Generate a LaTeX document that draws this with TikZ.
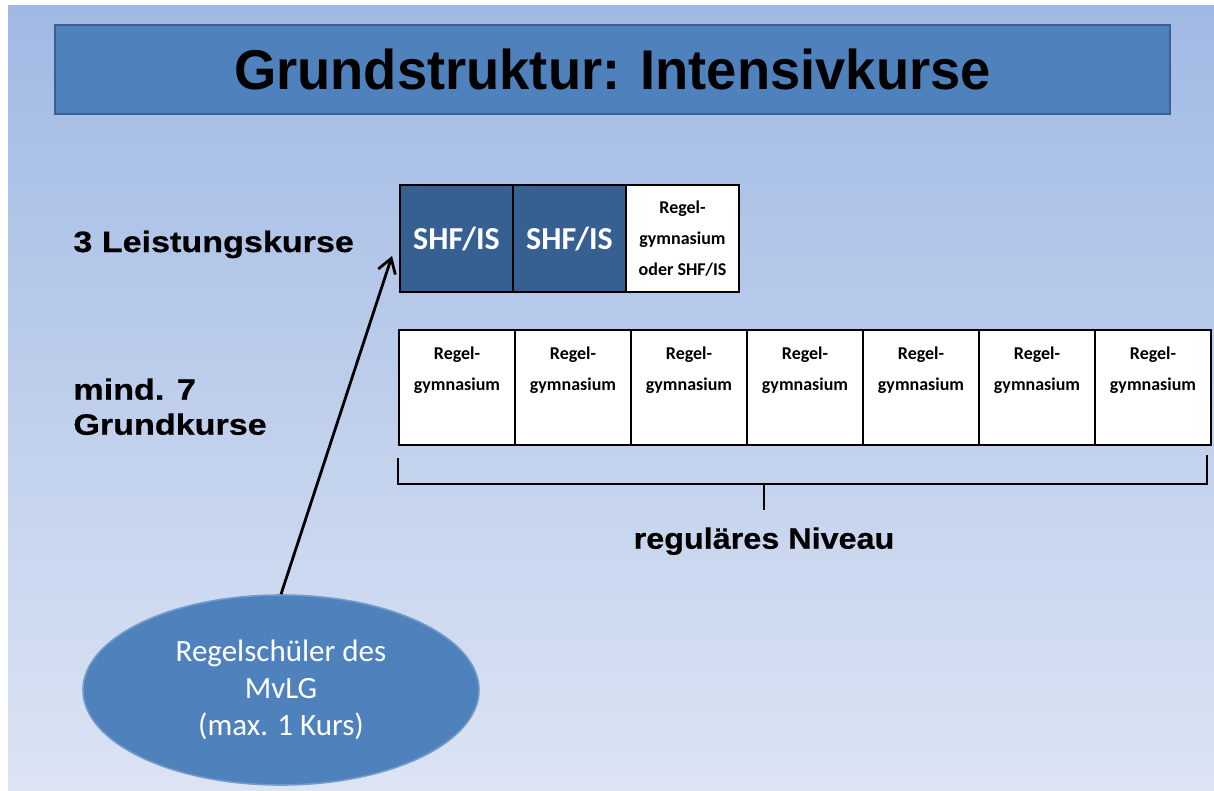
\documentclass[tikz,border=0pt]{standalone}
\usepackage{fontspec}
\setmainfont{Liberation Sans}
\newfontfamily\titlefont[FakeStretch=0.97]{Liberation Sans}
\newfontfamily\labelfont[FakeStretch=1.16,FakeBold=0.6]{Liberation Sans}
\newfontfamily\niveaufont[FakeStretch=1.1,FakeBold=0.6]{Liberation Sans}
\newfontfamily\calfont{Carlito}
\usetikzlibrary{positioning}
\usetikzlibrary{calc}
\usetikzlibrary{arrows.meta}
\usetikzlibrary{matrix,shapes.geometric}
\definecolor{titleblue}{HTML}{4F81BD}
\definecolor{titleline}{HTML}{3A5F95}
\definecolor{cellblue}{HTML}{376092}
\definecolor{bgtop}{HTML}{A0B9E4}
\definecolor{bgbottom}{HTML}{DCE4F4}

\tikzset{
	titlebox/.style={draw=titleline,line width=0.9pt,fill=titleblue,minimum width=557.5pt,minimum height=44.5pt,inner sep=0pt,font=\titlefont\bfseries\fontsize{28}{32}\selectfont},
	lkcell/.style={draw=black,line width=0.6pt,minimum width=56.5pt,minimum height=53.5pt,inner sep=0pt,outer sep=0pt,align=center},
	shfcell/.style={lkcell,fill=cellblue,text=white,font=\calfont\bfseries\fontsize{16}{19}\selectfont},
	regcell/.style={lkcell,fill=white,font=\calfont\bfseries\fontsize{9}{15.5}\selectfont},
	gkcell/.style={draw=black,line width=0.6pt,fill=white,minimum width=58pt,minimum height=57.5pt,inner sep=0pt,outer sep=0pt},
	celltext/.style={align=center,inner sep=0pt,font=\calfont\bfseries\fontsize{9}{15.5}\selectfont},
	kurslabel/.style={inner sep=0pt,align=left,font=\labelfont\bfseries\fontsize{14.7}{17.5}\selectfont},
	niveaulabel/.style={kurslabel,font=\niveaufont\bfseries\fontsize{14.7}{17.5}\selectfont},
	brace/.style={line width=1.4pt},
	pfeil/.style={line width=1.4pt,-{Straight Barb[length=7pt,width=9pt]}},
	schueler/.style={ellipse,fill=titleblue,draw=titleblue!80!white,line width=0.8pt,text=white,align=center,minimum width=198pt,minimum height=95pt,inner sep=0pt,font=\calfont\fontsize{15.5}{18.5}\selectfont},
}

\begin{document}
\begin{tikzpicture}[x=0.5pt,y=-0.5pt]
	\useasboundingbox (0,0) rectangle (1214,791);
	\fill[white] (0,0) rectangle (1214,791);
	\shade[top color=bgtop,bottom color=bgbottom] (8,6) rectangle (1214,791);
	
	% Titel
	\node[titlebox] (title) at (612.5,69.5) {Grundstruktur: Intensivkurse};
	
	% Leistungskurse
	\matrix[column sep=-0.6pt,inner sep=0pt,ampersand replacement=\&,anchor=north west] (lk) at (399,184) {
		\node[shfcell] (lk1) {SHF/IS}; \& \node[shfcell] (lk2) {\raisebox{-2.5pt}{SHF/IS}}; \& \node[regcell] (lk3) {Regel-\\gymnasium\\oder SHF/IS}; \\
	};
	
	% Grundkurse
	\node[gkcell,anchor=north west] (g1) at (399,330) {};
	\foreach \i [evaluate=\i as \j using int(\i-1)] in {2,...,7}
		\node[gkcell,right=0pt of g\j] (g\i) {};
	\foreach \i in {1,...,7}
		\node[celltext,anchor=north] (gt\i) at ($(g\i.north)+(0,16)$) {Regel-\\gymnasium};
	
	% Klammer
	\coordinate (kl) at ($(g1.south west)+(-1,13)$);
	\coordinate (kb) at ($(kl)+(0,26)$);
	\coordinate (kr) at ($(g7.south east)+(-4,10)$);
	\node[niveaulabel,anchor=north] (niveau) at (764,527) {reguläres Niveau};
	\draw[brace] (kl) -- (kb) -| (kr);
	\draw[brace] (niveau.north |- kb) -- ($(niveau.north)+(0,-17)$);
	
	% Beschriftung links
	\node[kurslabel,anchor=base west] (lklabel) at (73,252) {3 Leistungskurse};
	\node[kurslabel,anchor=north west] (gklabel) at (73,378) {mind. 7\\Grundkurse};
	
	% Regelschueler
	\node[schueler] (rs) at (281,690) {Regelschüler des\\MvLG\\(max. 1 Kurs)};
	\coordinate (pfeilspitze) at ($(lk.south west)+(-7,-37)$);
	\draw[pfeil] (rs.north) -- (pfeilspitze);
\end{tikzpicture}
\end{document}
